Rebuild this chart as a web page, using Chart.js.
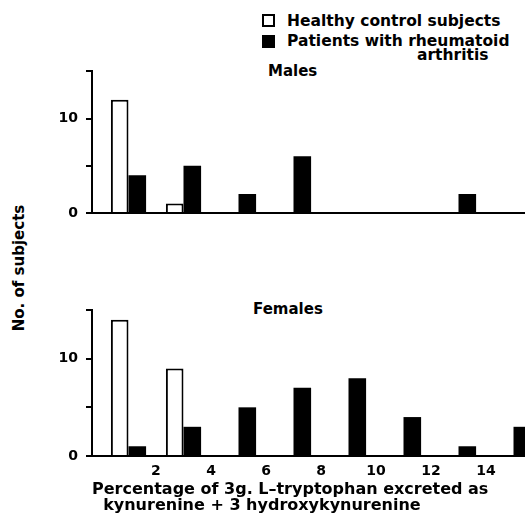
<!DOCTYPE html>
<html>
<head>
<meta charset="utf-8">
<script src="https://cdn.jsdelivr.net/npm/chart.js@4/dist/chart.umd.min.js"></script>
<style>
body{margin:0;background:#fff}
#wrap{position:relative;width:525px;height:514px;overflow:hidden;font-family:"DejaVu Sans",sans-serif;font-weight:bold;color:#000}
.txt{position:absolute;font-size:15.5px;line-height:15px;white-space:nowrap;transform:translateY(-50%)}
.box{position:absolute;width:13px;height:13px;box-sizing:border-box;border:2px solid #000;background:#fff}
canvas{position:absolute;left:0}
</style>
</head>
<body>
<div id="wrap">
  <div class="box" style="left:262px;top:14px"></div>
  <div class="txt" style="left:287px;top:21px">Healthy control subjects</div>
  <div class="box" style="left:262px;top:35px;background:#000"></div>
  <div class="txt" style="left:287px;top:41px">Patients with rheumatoid</div>
  <div class="txt" style="left:417px;top:55px">arthritis</div>
  <div class="txt" style="left:268px;top:71px;font-size:15px">Males</div>
  <div class="txt" style="left:253px;top:309px;font-size:15px">Females</div>
  <div class="txt" style="left:19px;top:268px;font-size:15px;transform:translate(-50%,-50%) rotate(-90deg)">No. of subjects</div>
  <canvas id="males" width="525" height="175" style="top:55px"></canvas>
  <canvas id="females" width="525" height="224" style="top:290px"></canvas>
</div>
<script>
// bins of 2 %, plotted at their middle
let binMid = [1, 3, 5, 7, 9, 11, 13, 15]
let malesHealthy  = [12, 1, 0, 0, 0, 0, 0, 0]
let malesPatients = [4, 5, 2, 6, 0, 0, 2, 0]
let femalesHealthy  = [14, 9, 0, 0, 0, 0, 0, 0]
let femalesPatients = [1, 3, 5, 7, 8, 4, 1, 3]
let xTicks = [2, 4, 6, 8, 10, 12, 14]
let yTicks = [0, 5, 10, 15]
let yTickLabels = [0, 10]

const font = {family: 'DejaVu Sans', weight: 'bold', size: 14}

function points(vals){
    return vals.map((v,i)=>({x: binMid[i], y: v}))
}

function makeChart(id, healthy, patients, top, xAxisHeight, showX){
    let xScale = {
        type: 'linear',
        offset: false,
        min: -0.327,
        max: 15.418,
        afterBuildTicks: s => { s.ticks = xTicks.map(v=>({value: v})) },
        afterFit: s => { s.height = xAxisHeight },
        grid: {display: false, drawTicks: false, offset: false},
        border: {display: true, color: '#000', width: 2},
        ticks: {display: showX, color: '#000', font: font, padding: 7, maxRotation: 0, autoSkip: false}
    }
    if(showX){
        xScale.title = {
            display: true,
            align: 'start',
            color: '#000',
            font: {family: 'DejaVu Sans', weight: 'bold', size: 16, lineHeight: 1.0},
            padding: {top: 0, bottom: 0},
            text: ['Percentage of 3g. L\u2013tryptophan excreted as', '  kynurenine + 3 hydroxykynurenine']
        }
    }
    return new Chart(document.getElementById(id), {
        type: 'bar',
        data: {
            datasets: [{
                label: 'Healthy control subjects',
                data: points(healthy),
                backgroundColor: '#fff',
                borderColor: '#000',
                borderWidth: 2
            },{
                label: 'Patients with rheumatoid arthritis',
                data: points(patients),
                backgroundColor: '#000',
                borderColor: '#000',
                borderWidth: 0
            }]
        },
        options: {
            responsive: false,
            animation: false,
            categoryPercentage: 0.64,
            barPercentage: 1.0,
            layout: {padding: {top: top, left: 0, right: 0, bottom: 0}},
            plugins: {legend: {display: false}, tooltip: {enabled: false}},
            scales: {
                x: xScale,
                y: {
                    min: 0,
                    max: 15,
                    afterBuildTicks: s => { s.ticks = yTicks.map(v=>({value: v})) },
                    afterFit: s => { s.width = 92 },
                    grid: {drawOnChartArea: false, drawTicks: true, tickLength: 6, color: '#000', lineWidth: 2},
                    border: {display: true, color: '#000', width: 2},
                    ticks: {
                        color: '#000', font: font, padding: 8,
                        callback: v => yTickLabels.includes(v) ? String(v) : ''
                    }
                }
            }
        }
    })
}

makeChart('males', malesHealthy, malesPatients, 15, 17, false)
makeChart('females', femalesHealthy, femalesPatients, 20, 58, true)
</script>
</body>
</html>
